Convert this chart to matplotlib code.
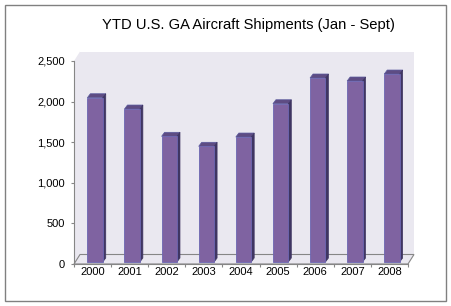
import numpy as np
import matplotlib
matplotlib.use("Agg")
import matplotlib.pyplot as plt
from matplotlib.patches import Polygon, Rectangle

plt.rcParams['font.family'] = ['Liberation Sans', 'DejaVu Sans']

# data
years = ['2000', '2001', '2002', '2003', '2004', '2005', '2006', '2007', '2008']
shipments = [2023, 1884, 1548, 1425, 1539, 1949, 2266, 2229, 2315]
yticks = [0, 500, 1000, 1500, 2000, 2500]

W, H = 452, 306
fig = plt.figure(figsize=(W / 100, H / 100), dpi=100)
fig.patch.set_facecolor('white')

# front plane of the plot, in pixels
left, right, bottom, top = 74, 408, 264, 61
ax = fig.add_axes([left / W, (H - bottom) / H, (right - left) / W, (bottom - top) / H])
ax.set_xlim(-0.5, len(years) - 0.5)
ax.set_ylim(0, 2500)
ax.set_facecolor('none')

# pixel -> data helpers
px_x = len(years) / (right - left)
px_y = 2500 / (bottom - top)

gray = '#868686'
wall = '#EAE8F0'

# depth of the box (floor / walls)
ddx, ddy = 6 * px_x, 9.5 * px_y
x0, x1 = -0.5, len(years) - 0.5
back = Polygon([(x0 + ddx, ddy), (x1 + ddx, ddy), (x1 + ddx, 2500 + ddy),
                (x0 + ddx, 2500 + ddy)], closed=True, facecolor=wall,
               edgecolor='none', clip_on=False, zorder=0)
side = Polygon([(x0, 0), (x0 + ddx, ddy), (x0 + ddx, 2500 + ddy), (x0, 2500)],
               closed=True, facecolor=wall, edgecolor='none', clip_on=False, zorder=0)
floor = Polygon([(x0, 0), (x1, 0), (x1 + ddx, ddy), (x0 + ddx, ddy)], closed=True,
                facecolor=wall, edgecolor=gray, lw=0.8, clip_on=False, zorder=0.5)
for p in (back, side, floor):
    ax.add_patch(p)

# bars with a bit of depth
bw = 15.4 * px_x
bx_off = 2.5 * px_x
by_off = 2 * px_y
bdx, bdy = 3 * px_x, 4 * px_y
xs = np.arange(len(years)) + bx_off
ax.bar(xs, shipments, width=bw, bottom=by_off, color='#7F63A1',
       edgecolor='#6C66B2', linewidth=0.6, zorder=3, clip_on=False)
for xc, v in zip(xs, shipments):
    l, r = xc - bw / 2, xc + bw / 2
    t = v + by_off
    ax.add_patch(Polygon([(l, t), (r, t), (r + bdx, t + bdy), (l + bdx, t + bdy)],
                         closed=True, facecolor='#5E4C83', edgecolor='#5A5A9E',
                         lw=0.5, zorder=2, clip_on=False))
    ax.add_patch(Polygon([(r, by_off), (r, t), (r + bdx, t + bdy), (r + bdx, by_off + bdy)],
                         closed=True, facecolor='#3F3562', edgecolor='#3F3562',
                         lw=0.5, zorder=2, clip_on=False))

# axes
for s in ('top', 'right'):
    ax.spines[s].set_visible(False)
for s in ('left', 'bottom'):
    ax.spines[s].set_color(gray)
    ax.spines[s].set_linewidth(0.8)
    ax.spines[s].set_zorder(1)

ax.set_yticks(yticks)
ax.set_yticklabels([f'{v:,}' for v in yticks], fontsize=8)
ax.tick_params(axis='y', direction='out', length=2.5, color=gray, pad=4)

ax.set_xticks(np.arange(len(years) + 1) - 0.5)
ax.set_xticklabels([])
ax.set_xticks(np.arange(len(years)), minor=True)
ax.set_xticklabels(years, minor=True, fontsize=8)
ax.tick_params(axis='x', which='major', direction='out', length=2.5, color=gray)
ax.tick_params(axis='x', which='minor', length=0, pad=2.5)

fig.text(248 / W, 1 - 25 / H, 'YTD U.S. GA Aircraft Shipments (Jan - Sept)',
         ha='center', va='center', fontsize=10.6)

# chart border
fig.add_artist(Rectangle((5 / W, 5 / H), 441 / W, 296 / H, transform=fig.transFigure,
                         facecolor='none', edgecolor='#808080', lw=1.0))

fig.savefig('out.png', dpi=100)
